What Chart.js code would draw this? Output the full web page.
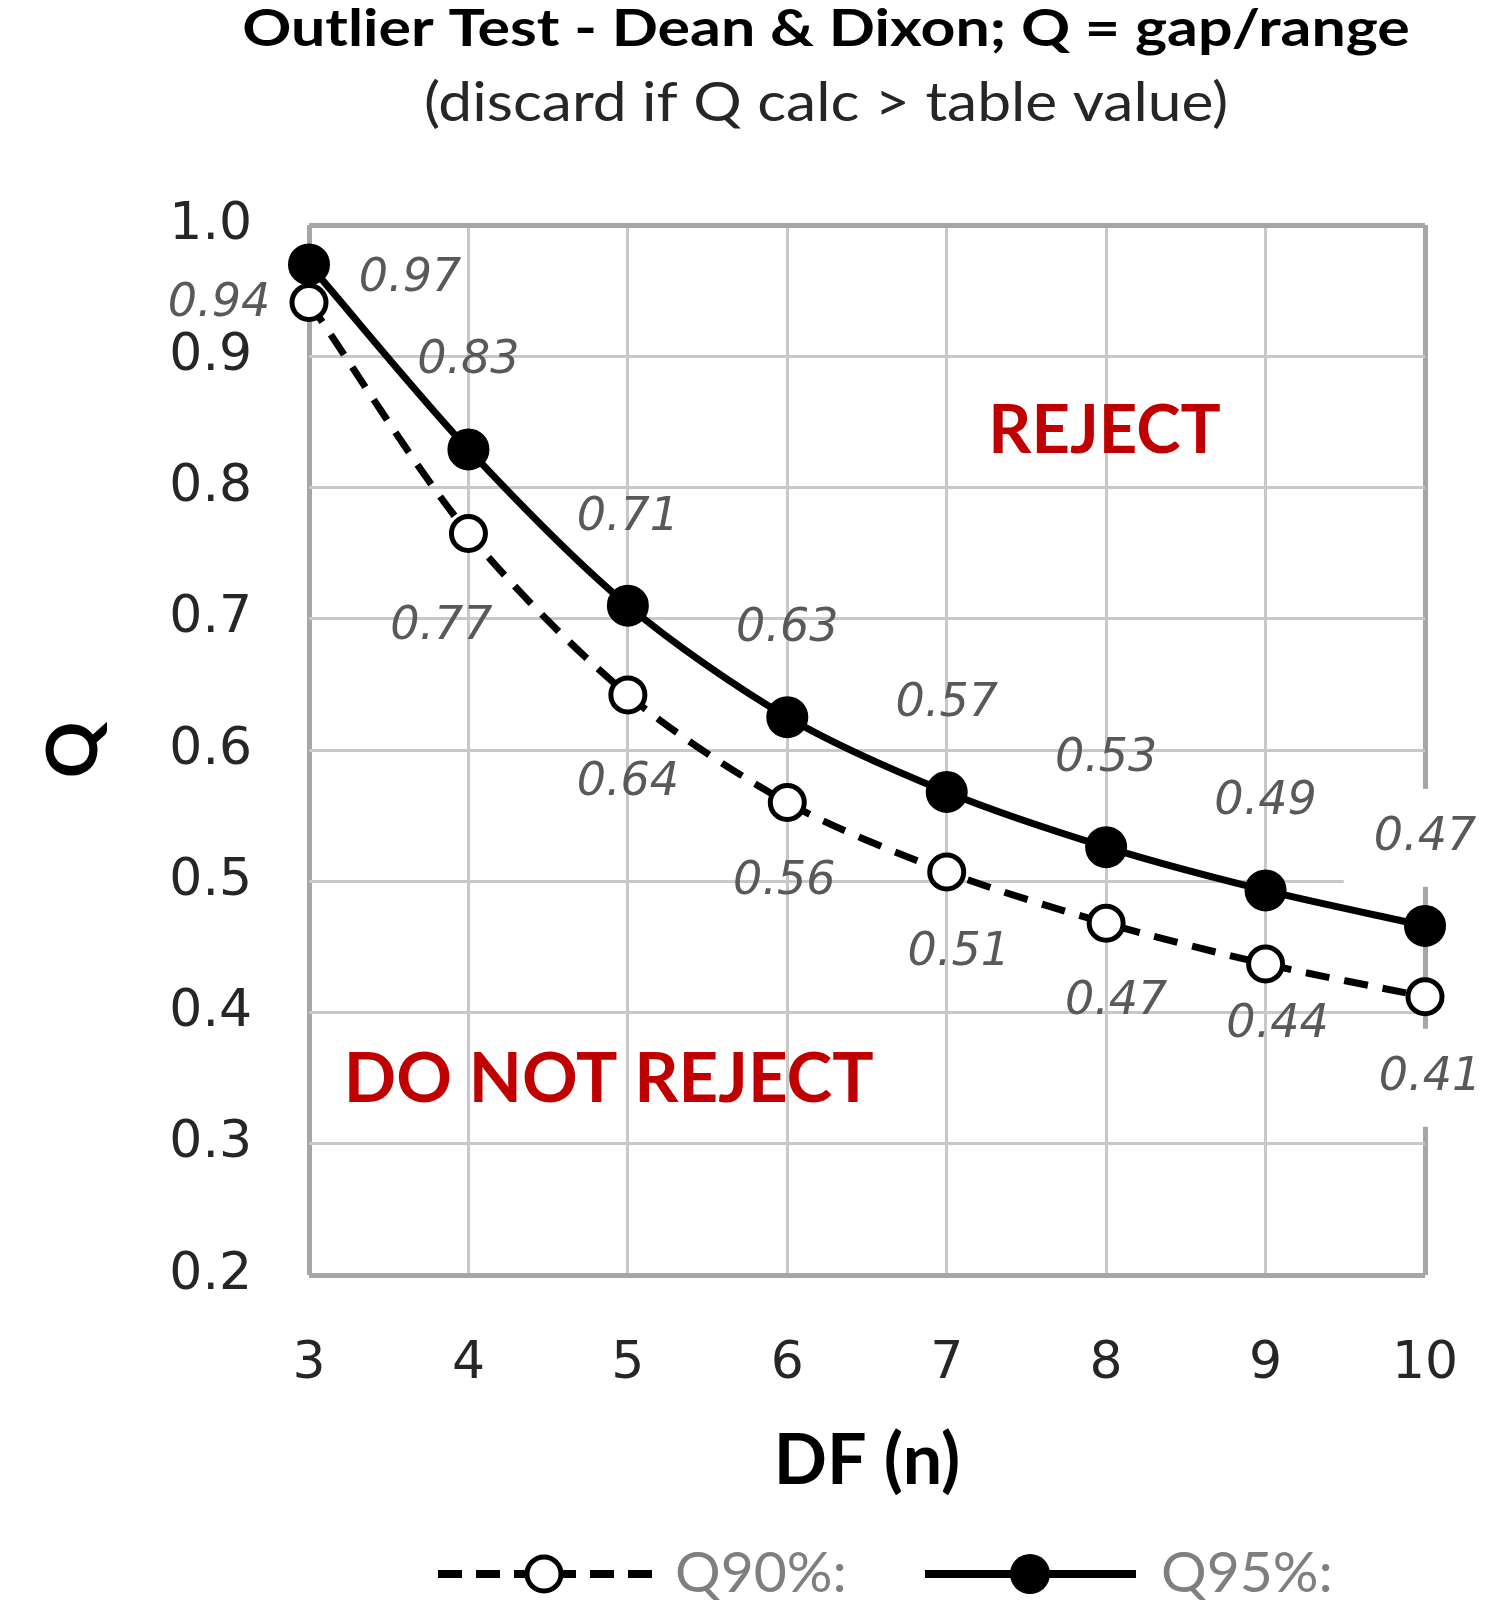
<!DOCTYPE html>
<html>
<head>
<meta charset="utf-8">
<script src="https://cdn.jsdelivr.net/npm/chart.js@4.4.0/dist/chart.umd.min.js"></script>
<style>
  html, body { margin: 0; padding: 0; background: #fff; }
  #wrap { width: 1500px; height: 1615px; }
</style>
</head>
<body>
<div id="wrap"><canvas id="myChart" width="1500" height="1615"></canvas></div>
<script>
// data
const dfLabels = ['3', '4', '5', '6', '7', '8', '9', '10'];
const q90 = [0.941, 0.765, 0.642, 0.560, 0.507, 0.468, 0.437, 0.412];
const q95 = [0.970, 0.829, 0.710, 0.625, 0.568, 0.526, 0.493, 0.466];
const yMin = 0.2, yMax = 1.0, yStep = 0.1;

const titleText = 'Outlier Test - Dean & Dixon; Q = gap/range';
const subtitleText = '(discard if Q calc > table value)';

// where the value labels sit relative to their point [dx, dy]
const labelOffsets = [
  [[-90, 2], [-27, 94], [0, 88], [-3, 80], [12, 81], [10, 79], [12, 61], [5, 81]],
  [[101, 15], [0, -88], [0, -88], [0, -88], [0, -88], [0, -88], [0, -88], [0, -88]]
];

const edgeGrid = (c, last) => c.index === 0 || c.index === last;

const valueLabels = {
  id: 'valueLabels',
  beforeDatasetsDraw(chart) {
    const ctx = chart.ctx;
    ctx.save();
    ctx.font = 'italic 46px "DejaVu Sans"';
    ctx.textAlign = 'center';
    ctx.textBaseline = 'middle';
    chart.data.datasets.forEach((ds, di) => {
      const meta = chart.getDatasetMeta(di);
      meta.data.forEach((pt, i) => {
        const txt = ds.data[i].toFixed(2);
        const x = pt.x + labelOffsets[di][i][0];
        const y = pt.y + labelOffsets[di][i][1];
        if (i === ds.data.length - 1) {
          const w = ctx.measureText(txt).width + 60;
          ctx.fillStyle = '#ffffff';
          ctx.fillRect(x - w / 2, y - 49, w, 98);
        }
        ctx.fillStyle = '#595959';
        ctx.fillText(txt, x, y);
      });
    });
    ctx.restore();
  }
};

// stretched text, the original headings are wider than Lato
function wideText(ctx, txt, x, y, sx) {
  ctx.save();
  ctx.translate(x, y);
  ctx.scale(sx, 1);
  ctx.fillText(txt, 0, 0);
  ctx.restore();
}

const extras = {
  id: 'extras',
  afterDraw(chart) {
    const ctx = chart.ctx;
    const xs = chart.scales.x, ys = chart.scales.y;
    ctx.save();
    ctx.textAlign = 'center';
    ctx.textBaseline = 'middle';
    // titles
    ctx.fillStyle = '#000000';
    ctx.font = 'bold 52px Lato';
    wideText(ctx, titleText, 826, 29, 1.17);
    ctx.font = '55px Lato';
    ctx.fillStyle = '#262626';
    wideText(ctx, subtitleText, 826, 103, 1.1);

    // region notes
    ctx.fillStyle = '#C00000';
    ctx.font = 'bold 67px Lato';
    ctx.fillText('REJECT', xs.getPixelForValue(4.99), ys.getPixelForValue(0.843));
    ctx.font = 'bold 69px Lato';
    ctx.fillText('DO NOT REJECT', xs.getPixelForValue(1.88), ys.getPixelForValue(0.349));

    // legend
    const ly = 1574;
    const ds = chart.data.datasets;
    ctx.strokeStyle = '#000000';
    ctx.lineWidth = 8;
    ctx.setLineDash([24, 14]);
    ctx.beginPath(); ctx.moveTo(438, ly); ctx.lineTo(654, ly); ctx.stroke();
    ctx.setLineDash([]);
    ctx.beginPath(); ctx.arc(544, ly, 17, 0, Math.PI * 2);
    ctx.fillStyle = '#ffffff'; ctx.fill();
    ctx.lineWidth = 5; ctx.stroke();

    ctx.lineWidth = 8;
    ctx.beginPath(); ctx.moveTo(925, ly); ctx.lineTo(1136, ly); ctx.stroke();
    ctx.beginPath(); ctx.arc(1030, ly, 20, 0, Math.PI * 2);
    ctx.fillStyle = '#000000'; ctx.fill();

    ctx.textAlign = 'left';
    ctx.fillStyle = '#7f7f7f';
    ctx.font = '57px Lato';
    ctx.fillText(ds[0].label, 675, ly);
    ctx.fillText(ds[1].label, 1161, ly);
    ctx.restore();
  }
};

const ctx = document.getElementById('myChart').getContext('2d');
new Chart(ctx, {
  type: 'line',
  data: {
    labels: dfLabels,
    datasets: [
      {
        label: 'Q90%:',
        data: q90,
        borderColor: '#000000',
        borderWidth: 7,
        borderDash: [24, 15],
        tension: 0.3,
        pointRadius: 17,
        pointBorderWidth: 5,
        pointBackgroundColor: '#ffffff',
        pointBorderColor: '#000000',
        clip: false
      },
      {
        label: 'Q95%:',
        data: q95,
        borderColor: '#000000',
        borderWidth: 7,
        tension: 0.3,
        pointRadius: 20,
        pointBorderWidth: 2,
        pointBackgroundColor: '#000000',
        pointBorderColor: '#000000',
        clip: false
      }
    ]
  },
  options: {
    responsive: false,
    devicePixelRatio: 1,
    animation: false,
    layout: { padding: { left: 0, right: 75, top: 225, bottom: 0 } },
    plugins: {
      legend: { display: false },
      title: { display: false },
      tooltip: { enabled: false }
    },
    scales: {
      x: {
        type: 'category',
        offset: false,
        afterFit: (s) => { s.height = 340; },
        border: { display: false },
        grid: {
          drawTicks: true,
          tickLength: 54,
          tickColor: 'rgba(0,0,0,0)',
          color: (c) => edgeGrid(c, dfLabels.length - 1) ? '#a6a6a6' : '#c8c8c8',
          lineWidth: (c) => edgeGrid(c, dfLabels.length - 1) ? 5 : 3
        },
        ticks: {
          padding: 4,
          color: '#262626',
          font: { family: '"DejaVu Sans"', size: 52 }
        },
        title: {
          display: true,
          text: 'DF (n)',
          color: '#000000',
          font: { family: 'Lato', weight: 'bold', size: 70 },
          padding: { top: 0, bottom: 112 }
        }
      },
      y: {
        min: yMin,
        max: yMax,
        afterFit: (s) => { s.width = 309; },
        border: { display: false },
        grid: {
          drawTicks: false,
          color: (c) => edgeGrid(c, 8) ? '#a6a6a6' : '#c8c8c8',
          lineWidth: (c) => edgeGrid(c, 8) ? 5 : 3
        },
        ticks: {
          stepSize: yStep,
          padding: 57,
          color: '#262626',
          font: { family: '"DejaVu Sans"', size: 52 },
          callback: (v) => Number(v).toFixed(1)
        },
        title: {
          display: true,
          text: 'Q',
          color: '#000000',
          font: { family: 'Lato', weight: 'bold', size: 70 },
          padding: { top: 32, bottom: 0 }
        }
      }
    }
  },
  plugins: [valueLabels, extras]
});
</script>
</body>
</html>
